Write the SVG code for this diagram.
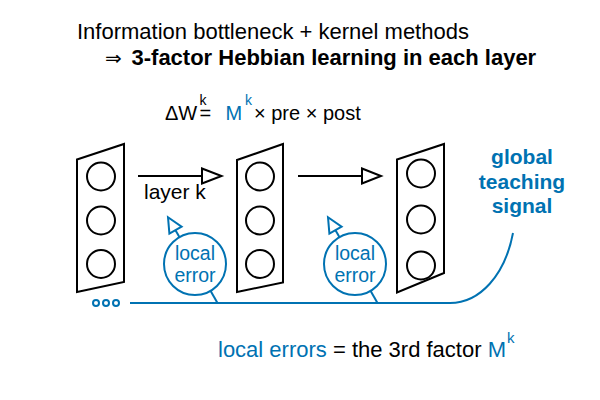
<svg xmlns="http://www.w3.org/2000/svg" width="600" height="400" viewBox="0 0 600 400">
<style>
text{font-family:"Liberation Sans",Arial,Helvetica,sans-serif;fill:#000}
.b{fill:#0072B2}
.layer{fill:#fff;stroke:#000;stroke-width:2}
.unit{fill:#fff;stroke:#000;stroke-width:2}
.ecirc{fill:#fff;stroke:#0072B2;stroke-width:2}
.fw{fill:none;stroke:#000;stroke-width:2}
.bl{fill:none;stroke:#0072B2;stroke-width:2}
.head{fill:#fff;stroke:#000;stroke-width:2;stroke-linejoin:miter}
.bhead{fill:#fff;stroke:#0072B2;stroke-width:2}
</style>
<rect width="600" height="400" fill="#fff"/>
<g id="title">
<text x="77" y="39" font-size="22">Information bottleneck + kernel methods</text>
<text x="105" y="65" font-size="20" style="font-family:'DejaVu Sans',sans-serif">⇒</text>
<text x="131.5" y="65" font-size="22" font-weight="bold">3-factor Hebbian learning in each layer</text>
</g>
<g id="formula">
<text y="120" font-size="20"><tspan x="165">ΔW</tspan><tspan x="199.5">=</tspan><tspan x="225.5" class="b">M</tspan><tspan x="254">× pre × post</tspan></text>
<text y="104.5" font-size="14"><tspan x="199.5">k</tspan><tspan x="245" class="b">k</tspan></text>
</g>
<g id="connectors">
<line class="fw" x1="138" y1="176" x2="202" y2="176"/>
<polygon class="head" points="202,168.5 221.5,176 202,183.5"/>
<line class="fw" x1="298" y1="176" x2="362" y2="176"/>
<polygon class="head" points="362,168.5 381,176 362,183.5"/>
<path class="bl" d="M130 303 L450 303 C480 303 505 275 513 233"/>
<line class="bl" x1="175.5" y1="230.2" x2="179.5" y2="237.2"/>
<line class="bl" x1="210.5" y1="290.8" x2="217.5" y2="303"/>
<polygon class="bhead" points="168,217.2 181.6,226.7 169.4,233.7"/>
<line class="bl" x1="335.5" y1="230.2" x2="339.5" y2="237.2"/>
<line class="bl" x1="370.5" y1="290.8" x2="377.5" y2="303"/>
<polygon class="bhead" points="328,217.2 341.6,226.7 329.4,233.7"/>
</g>
<g id="layer1">
<polygon class="layer" points="77,159.5 124,144 124,282 77,292"/>
<circle class="unit" cx="101" cy="176.5" r="14"/>
<circle class="unit" cx="101" cy="220.5" r="14"/>
<circle class="unit" cx="101" cy="264" r="14"/>
</g>
<g id="layer2">
<polygon class="layer" points="237,160 283,144 283,282.5 237,292"/>
<circle class="unit" cx="260" cy="176.5" r="14"/>
<circle class="unit" cx="260" cy="220.5" r="14"/>
<circle class="unit" cx="260" cy="264" r="14"/>
</g>
<g id="layer3">
<polygon class="layer" points="397,159.5 444,144 444,273 397,292.5"/>
<circle class="unit" cx="421" cy="173.5" r="14"/>
<circle class="unit" cx="421" cy="219.5" r="14"/>
<circle class="unit" cx="421" cy="265.5" r="14"/>
</g>
<g id="layerk-label">
<text x="144" y="199" font-size="21">layer k</text>
</g>
<g id="local-error-1">
<circle class="ecirc" cx="195" cy="264" r="31"/>
<text class="b" x="195" y="260" font-size="19.5" text-anchor="middle">local</text>
<text class="b" x="195" y="282" font-size="19.5" text-anchor="middle">error</text>
</g>
<g id="local-error-2">
<circle class="ecirc" cx="355" cy="264" r="31"/>
<text class="b" x="355" y="260" font-size="19.5" text-anchor="middle">local</text>
<text class="b" x="355" y="282" font-size="19.5" text-anchor="middle">error</text>
</g>
<g id="global-signal">
<text class="b" x="522" y="164" font-size="21" font-weight="bold" text-anchor="middle">global</text>
<text class="b" x="522" y="188.5" font-size="21" font-weight="bold" text-anchor="middle">teaching</text>
<text class="b" x="522" y="213" font-size="21" font-weight="bold" text-anchor="middle">signal</text>
</g>
<g id="dots">
<circle class="ecirc" cx="96" cy="303" r="3"/>
<circle class="ecirc" cx="106" cy="303" r="3"/>
<circle class="ecirc" cx="116" cy="303" r="3"/>
</g>
<g id="caption">
<text x="218" y="357" font-size="22"><tspan class="b">local errors</tspan> = the 3rd factor <tspan class="b">M</tspan></text>
<text class="b" x="507" y="343" font-size="15">k</text>
</g>
</svg>
